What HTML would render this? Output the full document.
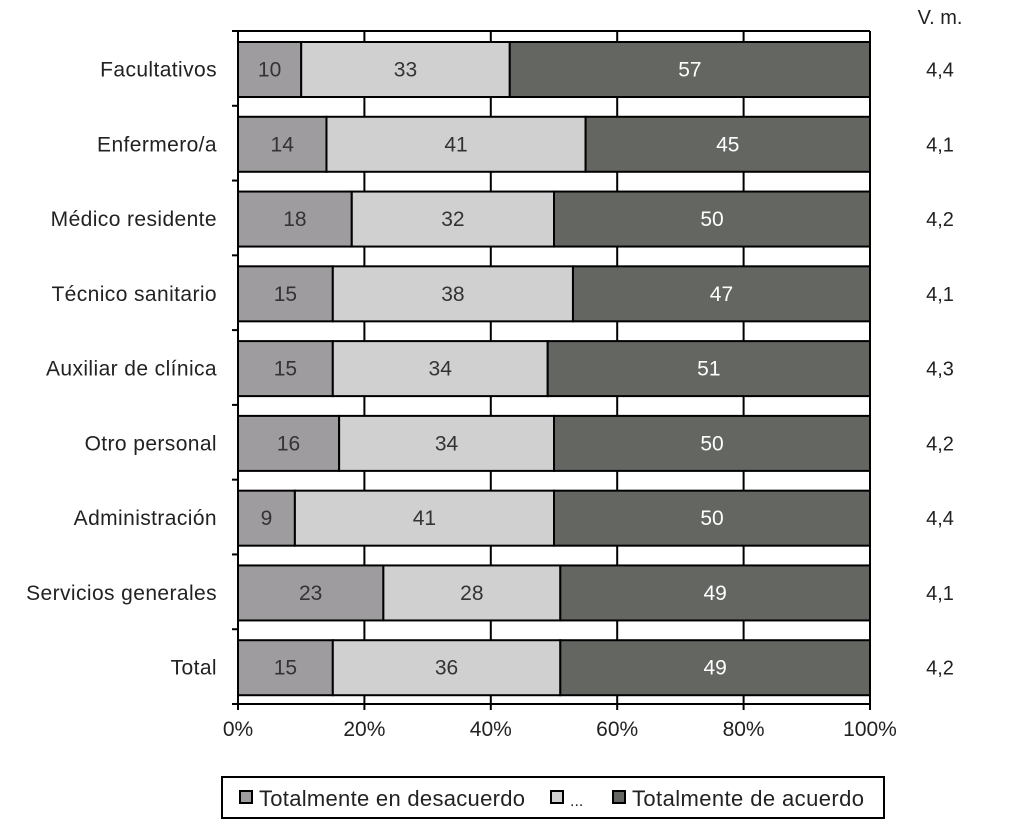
<!DOCTYPE html>
<html><head><meta charset="utf-8"><style>
body{margin:0;background:#fff;}
svg text{font-family:"Liberation Sans",sans-serif;font-weight:300;}
</style></head><body>
<svg id="c" width="1014" height="830"></svg>
<script>
const categories=["Facultativos","Enfermero/a","Médico residente","Técnico sanitario","Auxiliar de clínica","Otro personal","Administración","Servicios generales","Total"];
const desacuerdo=[10,14,18,15,15,16,9,23,15];
const neutral=[33,41,32,38,34,34,41,28,36];
const acuerdo=[57,45,50,47,51,50,50,49,49];
const vm=["4,4","4,1","4,2","4,1","4,3","4,2","4,4","4,1","4,2"];
const xTicks=[0,20,40,60,80,100];
const seriesNames=["Totalmente en desacuerdo","...","Totalmente de acuerdo"];
const colors=["#9e9c9f","#d0d0d0","#646662"];

const NS="http://www.w3.org/2000/svg";
const svg=document.getElementById('c');
const L=238,R=870,T=31,B=704;
const rowH=(B-T)/categories.length;
const x=v=>L+(R-L)*v/100;
const yRow=i=>T+i*rowH;
function mk(tag,attrs,parent){const e=document.createElementNS(NS,tag);for(const k in attrs)e.setAttribute(k,attrs[k]);(parent||svg).appendChild(e);return e;}

xTicks.forEach((t,i)=>{
  const g=mk('line',{x1:x(t),x2:x(t),y1:T,y2:B+6,stroke:'#000','stroke-width':2});
  
  
  const tx=mk('text',{x:x(t),y:B+32,'text-anchor':'middle','font-size':21,fill:'#222'});
  tx.textContent=t+'%';
  
  
});
mk('line',{x1:L,x2:R,y1:T,y2:T,stroke:'#000','stroke-width':2});
mk('line',{x1:L-6,x2:R,y1:B,y2:B,stroke:'#000','stroke-width':2});
const ax=mk('line',{x1:L,x2:L,y1:T,y2:B,stroke:'#000','stroke-width':2});


for(let i=0;i<=categories.length;i++){mk('line',{x1:L-6,x2:L,y1:yRow(i),y2:yRow(i),stroke:'#000','stroke-width':2});}

const vmT=mk('text',{x:940,y:24,'text-anchor':'middle','font-size':20,fill:'#222'});
vmT.textContent='V. m.';



const series=[desacuerdo,neutral,acuerdo];
categories.forEach((c,i)=>{
  const y0=yRow(i)+11,h=55,cy=y0+h/2+7;
  const lab=mk('text',{x:217,y:cy,'text-anchor':'end','font-size':21,fill:'#222','letter-spacing':0.4});
  lab.textContent=c;
  
  
  let acc=0;
  series.forEach((s,k)=>{
    const v=s[i];
    const r=mk('rect',{x:x(acc),y:y0,width:x(acc+v)-x(acc),height:h,fill:colors[k],stroke:'#000','stroke-width':2});
    
    
    const t=mk('text',{x:(x(acc)+x(acc+v))/2,y:cy,'text-anchor':'middle','font-size':21,fill:k==2?'#fff':'#333'});
    t.textContent=v;
    
    
    acc+=v;
  });
  const m=mk('text',{x:940,y:cy,'text-anchor':'middle','font-size':20,fill:'#222'});
  m.textContent=vm[i];
  
  
});

const lb=mk('rect',{x:222,y:777,width:662,height:41,fill:'#fff',stroke:'#000','stroke-width':2});


const lx=[240,551,613];
const lw=[266,0,232];
seriesNames.forEach((n,k)=>{
  const sq=mk('rect',{x:lx[k],y:791,width:12,height:12,fill:colors[k],stroke:'#000','stroke-width':2});
  
  
  const at={x:lx[k]+19,y:806,'font-size':k==1?16:22,fill:'#222'};
  if(lw[k]){at.textLength=lw[k];at.lengthAdjust='spacing';}
  const t=mk('text',at);
  t.textContent=n;
  
  
});
</script>
</body></html>
